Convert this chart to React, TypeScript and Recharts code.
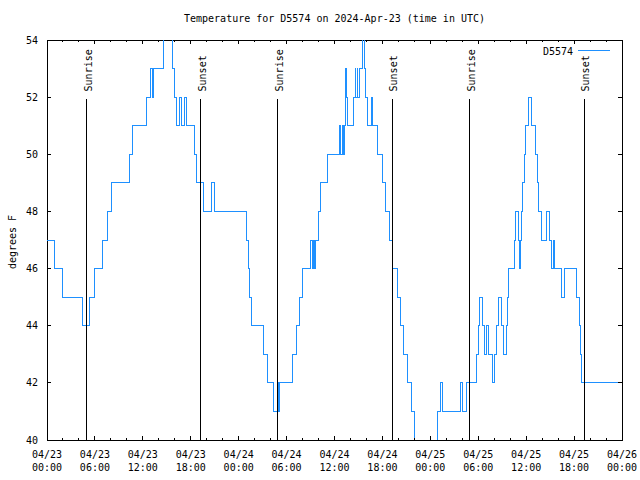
import React from 'react';
import { LineChart, Line, XAxis, YAxis, ReferenceLine, ReferenceArea, Legend } from 'recharts';

// hours since 04/23 00:00 UTC where the reading changes, and the reading (deg F)
const stepHours = [
  0, 0.96, 2.0, 4.47, 5.34, 5.97, 6.89, 7.52, 8.06, 10.36, 10.7, 12.45, 12.95, 13.2, 13.38,
  14.55, 15.67, 15.96, 16.25, 16.63, 16.88, 17.21, 17.46, 18.47, 18.68, 19.64, 20.65, 21.0,
  24.99, 25.2, 25.4, 25.65, 27.16, 27.58, 28.33, 28.9, 29.0, 29.1, 30.75, 31.26, 31.67, 32.05,
  33.0, 33.2, 33.35, 33.5, 33.65, 34.0, 34.25, 35.1, 36.6, 36.8, 36.95, 37.1, 37.2, 37.4,
  37.52, 37.65, 38.44, 38.57, 38.69, 38.82, 38.94, 39.11, 39.5, 39.72, 39.85, 40.11, 40.62,
  40.78, 41.4, 42.0, 42.41, 42.83, 43.25, 43.87, 44.29, 44.65, 45.15, 45.7, 46.0, 46.25,
  48.7, 48.85, 49.3, 49.55, 51.75, 51.98, 52.5, 53.82, 53.99, 54.19, 54.53, 54.82, 55.07,
  55.3, 55.8, 56.07, 56.28, 56.49, 56.91, 57.16, 57.5, 57.62, 57.8, 58.5, 58.67, 59.04, 59.2,
  59.33, 59.42, 59.58, 59.75, 59.96, 60.3, 60.67, 61.2, 61.42, 61.59, 61.92, 62.55, 62.9,
  63.18, 63.43, 63.6, 64.47, 64.85, 66.31, 66.65, 66.77, 66.94, 72,
];
const tempF = [
  47, 46, 45, 44, 45, 46, 47, 48, 49, 50, 51, 52, 53, 52, 53,
  55, 53, 52, 51, 52, 51, 52, 51, 50, 49, 48, 49, 48,
  47, 46, 45, 44, 43, 42, 41, 42, 41, 42, 43, 44, 45, 46,
  47, 46, 47, 46, 47, 48, 49, 50, 51, 50, 51, 50, 51, 53,
  52, 51, 52, 53, 52, 53, 52, 53, 55, 53, 52, 51, 52,
  51, 50, 49, 48, 47, 46, 45, 44, 43, 42, 41, 40, 39,
  40, 41, 42, 41, 42, 41, 42, 43, 44, 45, 44, 43, 44,
  43, 42, 43, 44, 45, 44, 43, 44, 45, 46, 47, 48, 47, 46,
  47, 48, 49, 50, 51, 52, 51, 50, 49, 48, 47, 48, 47,
  46, 47, 46, 45, 46, 45, 44, 43, 42, 42,
];

const xTickHours = [0, 2, 4, 6, 8, 10, 12, 14, 16, 18, 20, 22, 24, 26, 28, 30, 32, 34, 36, 38, 40, 42, 44, 46, 48, 50, 52, 54, 56, 58, 60, 62, 64, 66, 68, 70, 72];
const xTickDates = ['04/23', '04/23', '04/23', '04/23', '04/24', '04/24', '04/24', '04/24', '04/25', '04/25', '04/25', '04/25', '04/26'];
const xTickTimes = ['00:00', '06:00', '12:00', '18:00', '00:00', '06:00', '12:00', '18:00', '00:00', '06:00', '12:00', '18:00', '00:00'];
const yTicks = [40, 42, 44, 46, 48, 50, 52, 54];
const sunriseHours = [4.95, 28.88, 52.95];
const sunsetHours = [19.25, 43.25, 67.28];

const data = stepHours.map((t, i) => ({ t, temp: tempF[i] }));

const FONT = '"DejaVu Sans Mono", monospace';
const PLOT_W = 575;
const PLOT_H = 400;
const LINE_COLOR = '#1e90ff';

function XTick(props: any) {
  const { x, y, payload } = props;
  const h = payload.value;
  const major = h % 6 === 0;
  const len = major ? 4 : 2;
  const i = h / 6;
  return (
    <g>
      <line x1={x} x2={x} y1={y} y2={y - len} stroke="#000" shapeRendering="crispEdges" />
      <line x1={x} x2={x} y1={y - PLOT_H} y2={y - PLOT_H + len} stroke="#000" shapeRendering="crispEdges" />
      {major && (
        <text textAnchor="middle" fontFamily={FONT} fontSize={10} fill="#000">
          <tspan x={x} y={y + 18}>{xTickDates[i]}</tspan>
          <tspan x={x} y={y + 31}>{xTickTimes[i]}</tspan>
        </text>
      )}
    </g>
  );
}

function YTick(props: any) {
  const { x, y, payload } = props;
  return (
    <g>
      <line x1={x} x2={x + 4} y1={y} y2={y} stroke="#000" shapeRendering="crispEdges" />
      <line x1={x + PLOT_W} x2={x + PLOT_W - 4} y1={y} y2={y} stroke="#000" shapeRendering="crispEdges" />
      <text x={x - 9} y={y + 3.5} textAnchor="end" fontFamily={FONT} fontSize={10} fill="#000">
        {payload.value}
      </text>
    </g>
  );
}

const sunLabel = (name: string) => (props: any) => {
  const vb = props.viewBox || {};
  const x = (vb.x ?? vb.x1) + 5;
  const y = (vb.y ?? Math.min(vb.y1, vb.y2)) - 8;
  return (
    <text x={x} y={y} transform={`rotate(-90 ${x} ${y})`} textAnchor="start" fontFamily={FONT} fontSize={10} fill="#000">
      {name}
    </text>
  );
};

const yLabel = (props: any) => {
  const vb = props.viewBox || {};
  const x = vb.x + vb.width - 31;
  const y = vb.y + vb.height / 2 + 2;
  return (
    <text x={x} y={y} transform={`rotate(-90 ${x} ${y})`} textAnchor="middle" fontFamily={FONT} fontSize={10} fill="#000">
      degrees F
    </text>
  );
};

const legendBox = () => (
  <svg width={90} height={20} style={{ display: 'block' }}>
    <text x={43} y={14.5} textAnchor="end" fontFamily={FONT} fontSize={10} fill="#000">D5574</text>
    <line x1={48} x2={80} y1={10} y2={10} stroke={LINE_COLOR} shapeRendering="crispEdges" />
  </svg>
);

export default function App() {
  return (
    <div style={{ position: 'absolute', left: 0, top: 0, width: 640, height: 480, background: '#fff' }}>
      <div
        style={{
          position: 'absolute', left: 0, top: 13, width: 669, textAlign: 'center',
          fontFamily: FONT, fontSize: 10, lineHeight: '12px', color: '#000',
        }}
      >
        Temperature for D5574 on 2024-Apr-23 (time in UTC)
      </div>
      <LineChart width={640} height={480} data={data} margin={{ top: 40, right: 18, bottom: 39, left: 46 }}>
        <XAxis
          dataKey="t"
          type="number"
          domain={[0, 72]}
          allowDataOverflow
          ticks={xTickHours}
          interval={0}
          height={1}
          tickSize={0}
          tickMargin={0}
          axisLine={false}
          tickLine={false}
          tick={<XTick />}
        />
        <YAxis
          domain={[40, 54]}
          allowDataOverflow
          ticks={yTicks}
          interval={0}
          width={1}
          tickSize={0}
          tickMargin={0}
          axisLine={false}
          tickLine={false}
          tick={<YTick />}
          label={{ content: yLabel }}
        />
        <Line
          type="stepAfter"
          dataKey="temp"
          stroke={LINE_COLOR}
          strokeWidth={1}
          dot={false}
          activeDot={false}
          isAnimationActive={false}
          shapeRendering="crispEdges"
        />
        {sunriseHours.map((h) => (
          <ReferenceLine
            key={'r' + h}
            segment={[{ x: h, y: 51.92 }, { x: h, y: 40 }]}
            stroke="#000"
            shapeRendering="crispEdges"
            label={{ content: sunLabel('Sunrise') }}
          />
        ))}
        {sunsetHours.map((h) => (
          <ReferenceLine
            key={'s' + h}
            segment={[{ x: h, y: 51.92 }, { x: h, y: 40 }]}
            stroke="#000"
            shapeRendering="crispEdges"
            label={{ content: sunLabel('Sunset') }}
          />
        ))}
        <ReferenceArea x1={0} x2={72} y1={40} y2={54} fill="none" fillOpacity={0} stroke="#000" strokeWidth={1} shapeRendering="crispEdges" />
        <Legend
          layout="horizontal"
          verticalAlign="middle"
          align="center"
          wrapperStyle={{ top: 40, left: 530, width: 90, height: 20 }}
          content={legendBox}
        />
      </LineChart>
    </div>
  );
}
